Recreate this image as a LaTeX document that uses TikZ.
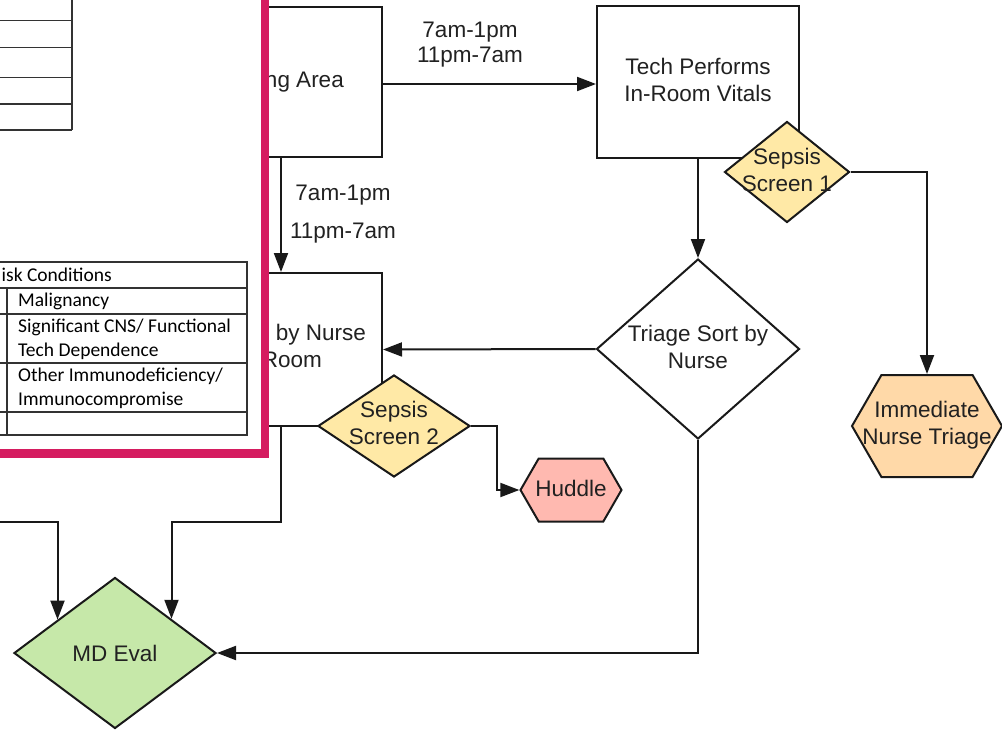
\documentclass[tikz,border=0pt]{standalone}
\usepackage{fontspec}
\setmainfont{Liberation Sans}
\newfontfamily\calib{Carlito}
\usetikzlibrary{shapes.geometric,shapes.symbols,arrows.meta,calc}
\definecolor{sepsisy}{HTML}{FFE9A6}
\definecolor{huddlec}{HTML}{FFB9B0}
\definecolor{immc}{HTML}{FFD9A8}
\definecolor{mdgreen}{HTML}{C6E8A9}
\definecolor{magframe}{HTML}{D51C60}
\begin{document}
\begin{tikzpicture}[x=1pt,y=-1pt,
  ln/.style={line width=2pt, draw=black!90},
  arr/.style={ln, -{Triangle[length=19pt,width=14pt]}},
  flowtxt/.style={font=\fontsize{22.5}{27}\selectfont, text=black!87, align=center, inner sep=0pt},
  procbox/.style={draw=black!90, line width=2pt, fill=white, inner sep=0pt},
  decision/.style={diamond, draw=black!90, line width=2pt, inner sep=0pt},
  terminal/.style={signal, signal to=east and west, signal pointer angle=120, draw=black!90, line width=2pt, inner sep=0pt},
  tbl/.style={line width=1.1pt, draw=black!80},
  tbltxt/.style={font=\calib\fontsize{19.5}{23}\selectfont, text=black, anchor=west, inner sep=0pt}
]
\useasboundingbox (0,0) rectangle (1002,731);
\clip (0,0) rectangle (1002,731);

% process boxes
\node[procbox, minimum width=202pt, minimum height=150pt] (wait) at (281,82) {};
\node[flowtxt, anchor=east] (waittxt) at (344,82) {ng Area};
\node[procbox, minimum width=202pt, minimum height=153pt] (box2) at (281,349.5) {};
\node[flowtxt, anchor=east] (box2a) at (366,335) {by Nurse};
\node[flowtxt, anchor=east] (box2b) at (322,360) {Room};
\node[procbox, minimum width=202pt, minimum height=152pt,
  label={[flowtxt, yshift=2.5pt]center:{Tech Performs\\In-Room Vitals}}] (tech) at (698,82) {};

% decisions
\node[decision, fill=sepsisy, minimum width=125pt, minimum height=101pt,
  label={[flowtxt, yshift=2pt]center:{Sepsis\\Screen 1}}] (s1) at (787,172) {};
\node[decision, fill=white, minimum width=203pt, minimum height=180pt,
  label={[flowtxt, yshift=2pt]center:{Triage Sort by\\Nurse}}] (tri) at (698,349) {};
\node[decision, fill=sepsisy, minimum width=152pt, minimum height=102pt,
  label={[flowtxt, yshift=3pt]center:{Sepsis\\Screen 2}}] (s2) at (394,426) {};
\node[decision, fill=mdgreen, minimum width=202pt, minimum height=151pt,
  label={[flowtxt]center:{MD Eval}}] (md) at (115,653) {};

% terminals
\node[terminal, fill=huddlec, minimum width=101pt, minimum height=63pt,
  label={[flowtxt, yshift=2pt]center:{Huddle}}] (hud) at (571,490) {};
\node[terminal, fill=immc, minimum width=150pt, minimum height=102pt,
  label={[flowtxt, yshift=0.5pt]center:{Immediate\\Nurse Triage}}] (imm) at (927,426) {};

% connector labels
\node[flowtxt] (t1) at (470,32.5) {7am-1pm};
\node[flowtxt] (t2) at (470,57.5) {11pm-7am};
\node[flowtxt] (t3) at (343,195.5) {7am-1pm};
\node[flowtxt] (t4) at (343,233.5) {11pm-7am};

% connectors
\draw[arr] ([yshift=-2pt]wait.east) -- ([yshift=-2pt]tech.west);
\draw[arr] (wait.south) -- (box2.north);
\draw[arr] (tech.south) -- (tri.north);
\draw[arr] (s1.east) -| (imm.north);
\draw[arr] (tri.west) -- (box2.east);
\draw[arr] (tri.south) |- (md.east);
\draw[arr] (s2.east) -- ++(26,0) |- (hud.west);
\coordinate (j2) at (281,522);
\coordinate (mdne) at ($(md.north east)+(5.5,4)$);
\draw[arr] (box2.south) -- (j2) -| (mdne);
\coordinate (lin) at (-10,522);
\coordinate (mdnw) at ($(md.north west)+(-6.5,4.8)$);
\draw[arr] (lin) -| (mdnw);

% magenta framed overlay
\draw[line width=8.5pt, draw=magframe, fill=white] (-30,-30) rectangle (265,453.5);

% table 1
\draw[tbl] (72,-5) -- (72,130);
\foreach \yy in {20.7,47.7,77.3,104,130} \draw[tbl] (-5,\yy) -- (72,\yy);

% table 2
\draw[tbl] (-5,262) -- (247,262) -- (247,435) -- (-5,435);
\foreach \yy in {288,314,363,412} \draw[tbl] (-5,\yy) -- (247,\yy);
\draw[tbl] (7,288) -- (7,435);
\node[tbltxt] (r0) at (1.5,275) {isk Conditions};
\node[tbltxt] (r1) at (18,301.5) {Malignancy};
\node[tbltxt] (r2) at (18,327) {Significant CNS/ Functional};
\node[tbltxt] (r3) at (18,351.5) {Tech Dependence};
\node[tbltxt] (r4) at (18,376.5) {Other Immunodeficiency/};
\node[tbltxt] (r5) at (18,400) {Immunocompromise};
\end{tikzpicture}
\end{document}
